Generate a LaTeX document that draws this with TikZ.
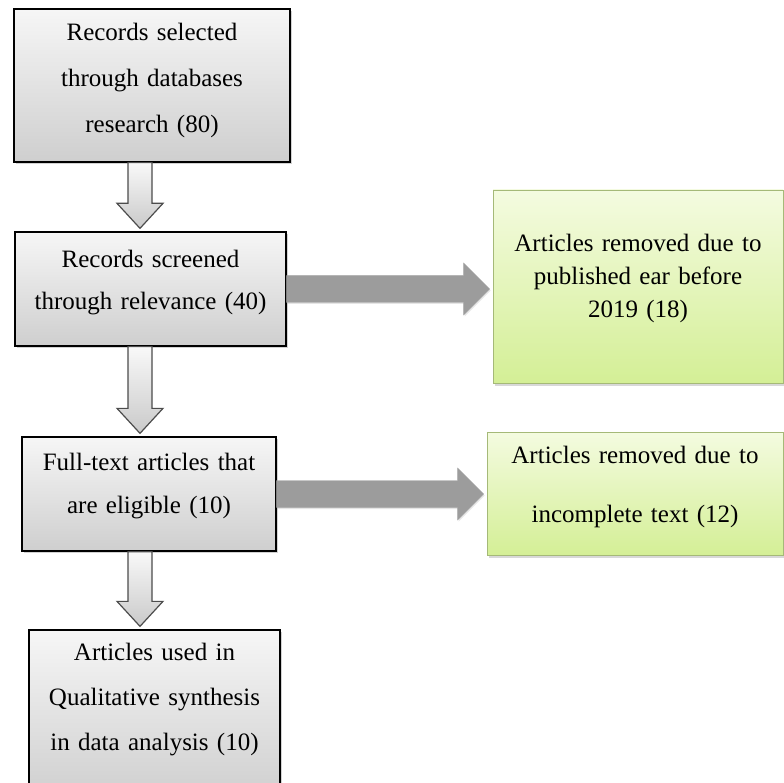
\documentclass[tikz,border=0pt]{standalone}
\usepackage{fontspec}
\setmainfont{Liberation Serif}
\usetikzlibrary{calc,shadows}

\definecolor{limetop}{RGB}{244,251,224}
\definecolor{limebot}{RGB}{212,239,150}
\definecolor{limeedge}{RGB}{165,185,120}

\tikzset{
  graybox/.style={draw=black, line width=1.3pt, top color=gray!7, bottom color=gray!38,
    drop shadow={opacity=0.35, shadow xshift=2pt, shadow yshift=-2pt},
    inner xsep=0pt, inner ysep=0pt, align=center},
  greenbox/.style={draw=limeedge, line width=0.8pt, top color=limetop, bottom color=limebot,
    drop shadow={opacity=0.3, shadow xshift=2pt, shadow yshift=-3pt},
    inner xsep=0pt, inner ysep=0pt, align=center},
  downarrow/.style={draw=black!70, line width=1.2pt, top color=gray!5, bottom color=gray!42},
  sidearrow/.style={fill=gray!78, draw=gray!70, line width=0.4pt,
    drop shadow={opacity=0.2, shadow xshift=1pt, shadow yshift=-1.5pt}}
}

% hollow block arrow going down, tip on the next box
\newcommand{\downblock}[2]{%
  \path[downarrow] ($(#1.south -| spine)+(-12,0)$) -- ($(#1.south -| spine)+(12,0)$)
    -- ($(#2.north -| spine)+(12,-28)$) -- ($(#2.north -| spine)+(23,-28)$)
    -- ($(#2.north -| spine)+(0,-3)$) -- ($(#2.north -| spine)+(-23,-28)$)
    -- ($(#2.north -| spine)+(-12,-28)$) -- cycle;}

% solid block arrow going right
\newcommand{\rightblock}[2]{%
  \path[sidearrow] ($(#1.east)+(0,-13.5)$) -- ($(#1.east -| #2.west)+(-29,-13.5)$)
    -- ($(#1.east -| #2.west)+(-29,-26)$) -- ($(#1.east -| #2.west)+(-3,0)$)
    -- ($(#1.east -| #2.west)+(-29,26)$) -- ($(#1.east -| #2.west)+(-29,13.5)$)
    -- ($(#1.east)+(0,13.5)$) -- cycle;}

\begin{document}
\begin{tikzpicture}[x=1pt, y=-1pt]
  \clip (0,0) rectangle (784,783);
  \fill[white] (0,0) rectangle (784,783);
  \coordinate (spine) at (140,0);

  % main column
  \node[graybox, minimum width=276, minimum height=153, text width=266,
    text height=32, text depth=121, font=\fontsize{25}{46}\selectfont]
    (rec) at (152,85.5) {Records selected\\through databases\\research (80)};
  \node[graybox, minimum width=271, minimum height=114, text width=262,
    text height=36, text depth=78, font=\fontsize{25}{42}\selectfont]
    (scr) at (150.5,289) {Records screened\\through relevance (40)};
  \node[graybox, minimum width=254, minimum height=114, text width=246,
    text height=33, text depth=81, font=\fontsize{25}{43}\selectfont]
    (elig) at (149,494) {Full-text articles that\\are eligible (10)};
  \node[graybox, minimum width=251, minimum height=170, text width=243,
    text height=30, text depth=140, font=\fontsize{25}{45}\selectfont]
    (used) at (154.5,715) {Articles used in\\Qualitative synthesis\\in data analysis (10)};

  % removed records
  \node[greenbox, minimum width=290, minimum height=193, text width=280,
    text height=62, text depth=131, font=\fontsize{25}{33}\selectfont]
    (oldpub) at (638,286.5) {Articles removed due to\\published ear before\\2019 (18)};
  \node[greenbox, minimum width=296, minimum height=123, text width=286,
    text height=31, text depth=92, font=\fontsize{25}{59}\selectfont]
    (incomp) at (635,493.5) {Articles removed due to\\incomplete text (12)};

  % arrows
  \downblock{rec}{scr}
  \downblock{scr}{elig}
  \downblock{elig}{used}
  \rightblock{scr}{oldpub}
  \rightblock{elig}{incomp}
\end{tikzpicture}
\end{document}
